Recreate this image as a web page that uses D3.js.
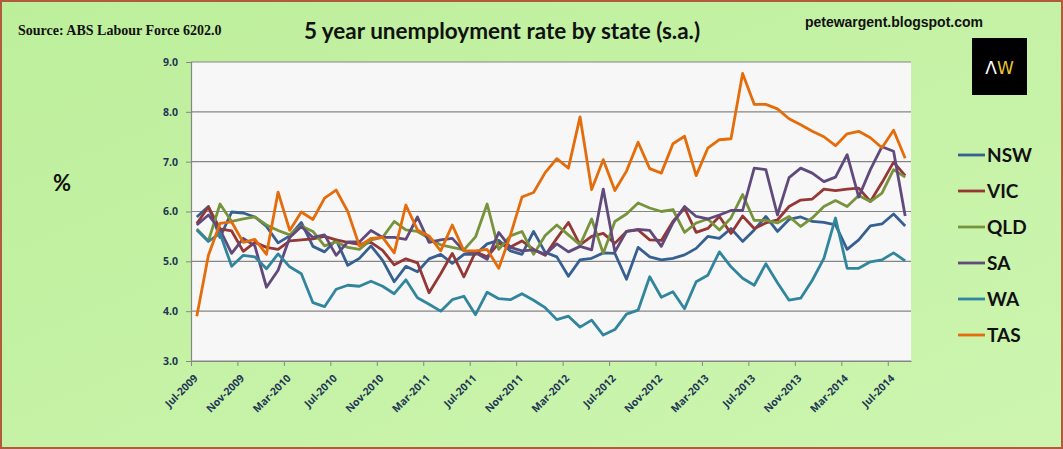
<!DOCTYPE html>
<html>
<head>
<meta charset="utf-8">
<script src="https://cdn.jsdelivr.net/npm/d3@7"></script>
<style>
  body { margin: 0; background: #fff; }
  svg { display: block; }
</style>
</head>
<body>
<div class="chart"></div>
<script>
var width = 1063;
var height = 449;

// monthly series, Jul-2009 .. Aug-2014 (62 months)
var nsw = [5.89, 6.10, 5.48, 5.99, 5.97, 5.89, 5.70, 5.37, 5.51, 5.78, 5.30, 5.19, 5.43, 4.92, 5.06, 5.31,
  5.02, 4.59, 4.90, 4.79, 5.05, 5.14, 4.96, 5.14, 5.14, 5.35, 5.42, 5.21, 5.14, 5.60, 5.18, 5.09,
  4.70, 5.03, 5.06, 5.17, 5.16, 4.64, 5.28, 5.09, 5.03, 5.06, 5.13, 5.26, 5.50, 5.46, 5.66, 5.40,
  5.63, 5.90, 5.60, 5.84, 5.89, 5.80, 5.78, 5.73, 5.24, 5.43, 5.71, 5.75, 5.95, 5.71];
var vic = [5.76, 6.09, 5.65, 5.61, 5.20, 5.38, 5.28, 5.24, 5.41, 5.43, 5.45, 5.50, 5.43, 5.38, 5.34, 5.38,
  5.22, 4.93, 5.05, 4.97, 4.37, 4.75, 5.16, 4.69, 5.19, 5.09, 5.36, 5.29, 5.41, 5.24, 5.12, 5.46,
  5.78, 5.33, 5.50, 5.56, 5.36, 5.60, 5.63, 5.43, 5.42, 5.80, 6.07, 5.58, 5.66, 5.90, 5.56, 5.91,
  5.66, 5.77, 5.83, 6.10, 6.23, 6.25, 6.45, 6.42, 6.45, 6.47, 6.20, 6.58, 6.99, 6.72];
var qld = [5.65, 5.41, 6.15, 5.80, 5.85, 5.89, 5.73, 5.62, 5.53, 5.71, 5.60, 5.31, 5.39, 5.28, 5.24, 5.43,
  5.48, 5.80, 5.63, 5.60, 5.46, 5.33, 5.28, 5.23, 5.49, 6.15, 5.24, 5.51, 5.60, 5.14, 5.52, 5.73,
  5.53, 5.33, 5.85, 5.16, 5.80, 5.95, 6.17, 6.07, 6.00, 6.04, 5.58, 5.77, 5.85, 5.63, 5.87, 6.34,
  5.82, 5.82, 5.77, 5.90, 5.70, 5.87, 6.10, 6.22, 6.10, 6.32, 6.20, 6.37, 6.84, 6.69];
var sa = [5.73, 5.93, 5.63, 5.16, 5.46, 5.31, 4.48, 4.82, 5.48, 5.70, 5.48, 5.53, 5.12, 5.39, 5.39, 5.62,
  5.48, 5.48, 5.44, 5.89, 5.38, 5.43, 5.46, 5.21, 5.17, 5.04, 5.58, 5.28, 5.21, 5.23, 5.14, 5.35,
  5.19, 5.30, 5.23, 6.45, 5.19, 5.60, 5.64, 5.62, 5.30, 5.77, 6.10, 5.90, 5.85, 5.93, 6.02, 6.02,
  6.87, 6.84, 5.93, 6.68, 6.87, 6.77, 6.60, 6.69, 7.14, 6.29, 6.84, 7.30, 7.21, 5.91];
var wa = [5.63, 5.40, 5.56, 4.90, 5.12, 5.09, 4.85, 5.15, 4.89, 4.75, 4.17, 4.09, 4.44, 4.52, 4.50, 4.60,
  4.50, 4.35, 4.63, 4.27, 4.14, 4.00, 4.23, 4.30, 3.93, 4.38, 4.25, 4.23, 4.35, 4.22, 4.07, 3.83,
  3.90, 3.68, 3.82, 3.52, 3.63, 3.94, 4.02, 4.69, 4.28, 4.39, 4.05, 4.59, 4.72, 5.19, 4.89, 4.66,
  4.52, 4.95, 4.57, 4.22, 4.26, 4.62, 5.06, 5.87, 4.86, 4.86, 4.99, 5.03, 5.17, 5.01];
var tas = [3.90, 5.12, 5.76, 5.79, 5.38, 5.44, 5.14, 6.39, 5.62, 5.99, 5.84, 6.27, 6.43, 6.00, 5.31, 5.46,
  5.48, 5.17, 6.13, 5.63, 5.51, 5.21, 5.73, 5.21, 5.21, 5.24, 4.86, 5.52, 6.29, 6.38, 6.78, 7.06,
  6.87, 7.90, 6.44, 7.04, 6.42, 6.81, 7.39, 6.86, 6.77, 7.36, 7.51, 6.72, 7.27, 7.44, 7.46, 8.77,
  8.15, 8.15, 8.06, 7.86, 7.74, 7.61, 7.50, 7.32, 7.56, 7.61, 7.48, 7.28, 7.63, 7.07];

var states = ["NSW", "VIC", "QLD", "SA", "WA", "TAS"];
var stateColors = ["#376092", "#953735", "#77933C", "#604A7B", "#31859C", "#E46C0A"];
var seriesValues = [nsw, vic, qld, sa, wa, tas];

var months = d3.timeMonth.range(new Date(2009, 6, 1), new Date(2014, 8, 1));
var xTickLabels = ["Jul-2009", "Nov-2009", "Mar-2010", "Jul-2010", "Nov-2010", "Mar-2011", "Jul-2011", "Nov-2011",
  "Mar-2012", "Jul-2012", "Nov-2012", "Mar-2013", "Jul-2013", "Nov-2013", "Mar-2014", "Jul-2014"];
var yTicks = [3, 4, 5, 6, 7, 8, 9];

var plot = { left: 191, right: 911, top: 62, bottom: 361 };

var svg = d3
  .select(".chart")
  .append("svg")
  .attr("width", width)
  .attr("height", height);

// green page background
var defs = svg.append("defs");
var grad = defs.append("linearGradient")
  .attr("id", "bg")
  .attr("x1", 0).attr("y1", 0)
  .attr("x2", 1).attr("y2", 1);
grad.append("stop").attr("offset", "0%").attr("stop-color", "#bdef9b");
grad.append("stop").attr("offset", "100%").attr("stop-color", "#cdf5b0");

svg.append("rect")
  .attr("x", 1).attr("y", 1)
  .attr("width", width - 2).attr("height", height - 2)
  .attr("fill", "url(#bg)")
  .attr("stroke", "#b25a3e")
  .attr("stroke-width", 2);

// scales
var x = d3.scaleLinear().domain([0, months.length]).range([plot.left, plot.right]);
var y = d3.scaleLinear().domain([3, 9]).range([plot.bottom, plot.top]);

svg.append("rect")
  .attr("x", plot.left).attr("y", plot.top)
  .attr("width", plot.right - plot.left)
  .attr("height", plot.bottom - plot.top)
  .attr("fill", "#f7f7f7");

// gridlines
svg.append("g")
  .attr("class", "grid")
  .selectAll("line")
  .data(yTicks)
  .enter()
  .append("line")
  .attr("x1", plot.left).attr("x2", plot.right)
  .attr("y1", (d) => y(d)).attr("y2", (d) => y(d))
  .attr("stroke", "#868686")
  .attr("stroke-width", 1.2);

// y axis
var yAxis = d3.axisLeft(y)
  .tickValues(yTicks)
  .tickFormat(d3.format(".1f"))
  .tickSize(5)
  .tickPadding(8);

var yAxisDraw = svg.append("g")
  .attr("class", "y axis")
  .attr("transform", `translate(${plot.left},0)`)
  .call(yAxis);
yAxisDraw.select(".domain").attr("stroke", "#868686").attr("stroke-width", 1.2);
yAxisDraw.selectAll(".tick line").attr("stroke", "#868686");
yAxisDraw.selectAll("text")
  .attr("font-family", "Open Sans")
  .attr("font-weight", "bold")
  .attr("font-size", "10.5px")
  .attr("fill", "#1f3656");

// x axis, ticks every 4 months at category boundaries
var xAxis = d3.axisBottom(x)
  .tickValues(d3.range(0, months.length, 4))
  .tickFormat((d, i) => xTickLabels[i])
  .tickSizeInner(5)
  .tickSizeOuter(0);

var xAxisDraw = svg.append("g")
  .attr("class", "x axis")
  .attr("transform", `translate(0,${plot.bottom})`)
  .call(xAxis);
xAxisDraw.select(".domain").attr("stroke", "#868686").attr("stroke-width", 1.2);
xAxisDraw.selectAll(".tick line").attr("stroke", "#868686");
xAxisDraw.selectAll("text")
  .attr("font-family", "Open Sans")
  .attr("font-weight", "bold")
  .attr("font-size", "10.5px")
  .attr("fill", "#1f3656")
  .attr("text-anchor", "end")
  .attr("y", 0)
  .attr("dy", 0)
  .attr("transform", "translate(7,18) rotate(-45)");

// lines
var line = d3.line()
  .x((d, i) => x(i + 0.5))
  .y((d) => y(d));

svg.append("g")
  .attr("class", "series")
  .selectAll("path")
  .data(seriesValues)
  .enter()
  .append("path")
  .attr("d", line)
  .attr("fill", "none")
  .attr("stroke", (d, i) => stateColors[i])
  .attr("stroke-width", 2.8)
  .attr("stroke-linejoin", "round");

// legend
var legend = svg.append("g")
  .attr("class", "legend")
  .selectAll("g")
  .data(states)
  .enter()
  .append("g")
  .attr("transform", (d, i) => `translate(958,${155 + i * 36})`);

legend.append("line")
  .attr("x1", 0).attr("x2", 27)
  .attr("y1", 0).attr("y2", 0)
  .attr("stroke", (d, i) => stateColors[i])
  .attr("stroke-width", 2.8);

legend.append("text")
  .attr("x", 29)
  .attr("y", 7)
  .attr("font-family", "Lato")
  .attr("font-weight", "bold")
  .attr("font-size", "19px")
  .attr("fill", "#111")
  .text((d) => d);

// titles and notes
svg.append("text")
  .attr("x", 502)
  .attr("y", 39)
  .attr("text-anchor", "middle")
  .attr("font-family", "Lato")
  .attr("font-weight", "bold")
  .attr("font-size", "22.5px")
  .attr("fill", "#111")
  .text("5 year unemployment rate by state (s.a.)");

svg.append("text")
  .attr("x", 18)
  .attr("y", 35)
  .attr("font-family", "Liberation Serif")
  .attr("font-weight", "bold")
  .attr("font-size", "14px")
  .attr("fill", "#111")
  .text("Source: ABS Labour Force 6202.0");

svg.append("text")
  .attr("x", 983)
  .attr("y", 27)
  .attr("text-anchor", "end")
  .attr("font-family", "Liberation Sans")
  .attr("font-weight", "bold")
  .attr("font-size", "14px")
  .attr("fill", "#111")
  .text("petewargent.blogspot.com");

svg.append("text")
  .attr("x", 62)
  .attr("y", 191)
  .attr("text-anchor", "middle")
  .attr("font-family", "Lato")
  .attr("font-weight", "bold")
  .attr("font-size", "22px")
  .attr("fill", "#111")
  .text("%");

// AW logo
var logo = svg.append("g").attr("transform", "translate(972,38)");
logo.append("rect").attr("width", 55).attr("height", 57).attr("fill", "#000");
var logoText = logo.append("text")
  .attr("x", 27.5)
  .attr("y", 36)
  .attr("text-anchor", "middle")
  .attr("font-family", "DejaVu Sans")
  .attr("font-weight", "normal")
  .attr("font-size", "17px");
logoText.append("tspan").attr("fill", "#ffffff").text("Λ");
logoText.append("tspan").attr("fill", "#e6c533").text("W");
</script>
</body>
</html>
